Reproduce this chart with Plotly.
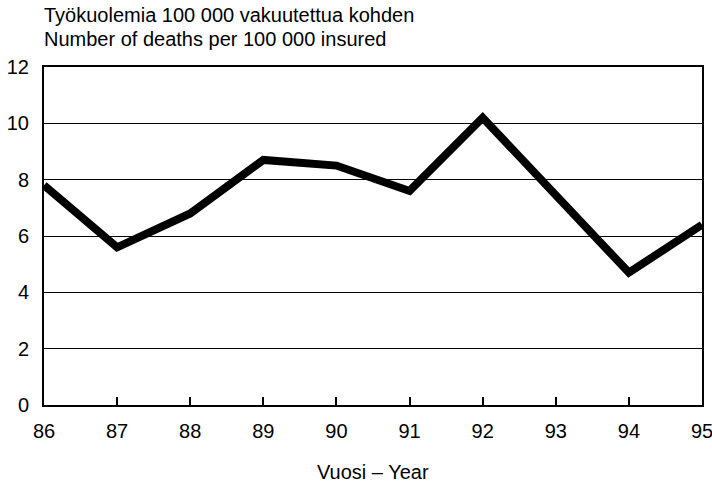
import plotly.graph_objects as go

years = [86, 87, 88, 89, 90, 91, 92, 93, 94, 95]
deaths = [7.8, 5.6, 6.8, 8.7, 8.5, 7.6, 10.2, 7.4, 4.7, 6.4]
y_ticks = [0, 2, 4, 6, 8, 10, 12]
title_fi = "Työkuolemia 100 000 vakuutettua kohden"
title_en = "Number of deaths per 100 000 insured"
x_title = "Vuosi – Year"

W, H = 712, 482
L, R, T, B = 44, 10, 67, 77
ph = H - T - B

def py(px):
    return 1 + (T - px) / ph

font = "Liberation Sans, Arial, sans-serif"

fig = go.Figure()
fig.add_trace(go.Scatter(
    x=years, y=deaths, mode="lines",
    line=dict(color="#000000", width=8),
    hoverinfo="skip", showlegend=False,
))

fig.update_layout(
    width=W, height=H,
    margin=dict(l=L, r=R, t=T, b=B, pad=0),
    paper_bgcolor="white", plot_bgcolor="white",
    font=dict(family=font, color="black"),
    xaxis=dict(
        range=[86, 95], tickmode="array", tickvals=years,
        ticktext=[str(v) for v in years],
        ticks="inside", ticklen=8, tickwidth=1.5, tickcolor="black",
        showline=True, linecolor="black", linewidth=2, mirror=True,
        showgrid=False, zeroline=False, automargin=False,
        tickfont=dict(size=20, family=font),
        ticklabelstandoff=7, ticklabeloverflow="allow",
    ),
    yaxis=dict(
        range=[0, 12], tickmode="array", tickvals=y_ticks,
        ticks="", showline=True, linecolor="black", linewidth=2, mirror=True,
        showgrid=True, gridcolor="black", gridwidth=1.3, zeroline=False,
        automargin=False,
        tickfont=dict(size=20, family=font),
        ticklabelstandoff=9, ticklabeloverflow="allow",
    ),
    annotations=[
        dict(text=title_fi, xref="paper", yref="paper", x=0, y=py(15),
             xanchor="left", yanchor="middle", showarrow=False, xshift=-2,
             font=dict(size=20, family=font)),
        dict(text=title_en, xref="paper", yref="paper", x=0, y=py(39),
             xanchor="left", yanchor="middle", showarrow=False, xshift=-2,
             font=dict(size=20, family=font)),
        dict(text=x_title, xref="paper", yref="paper", x=0.5, y=py(472),
             xanchor="center", yanchor="middle", showarrow=False,
             font=dict(size=20, family=font)),
    ],
)

fig.write_html("out.html", config={"displayModeBar": False},
               post_script="document.body.style.margin='0';document.body.style.padding='0';")
